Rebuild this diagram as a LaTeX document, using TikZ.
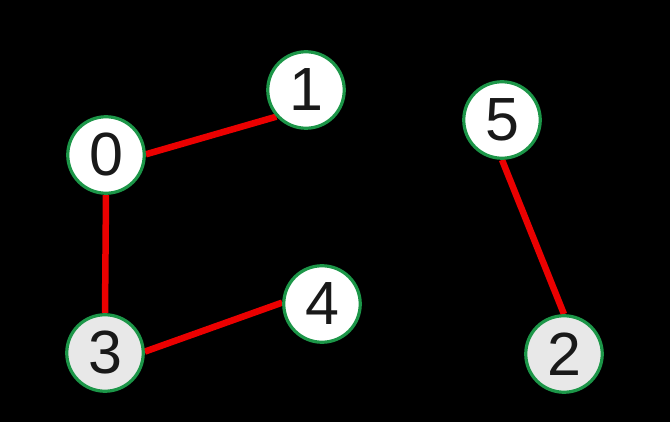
\documentclass[tikz,border=0pt]{standalone}
\usepackage{fontspec}
\setmainfont{Liberation Sans}
\usetikzlibrary{backgrounds}
\definecolor{ringgreen}{RGB}{28,150,72}
\definecolor{edgered}{RGB}{235,0,0}
\definecolor{lightfill}{RGB}{232,232,232}
\begin{document}
\begin{tikzpicture}[x=1pt,y=-1pt,
  vert/.style={circle,draw=ringgreen,line width=3.2pt,fill=white,minimum size=76.5pt,inner sep=0pt,font=\fontsize{61}{61}\selectfont,text=black!90},
  vertg/.style={vert,fill=lightfill},
  edge/.style={draw=edgered,line width=6.5pt}]
\useasboundingbox (0,0) rectangle (670,422);
\node[vert] (n0) at (106,155) {0};
\node[vert] (n1) at (306,90) {1};
\node[vert] (n5) at (502,120) {5};
\node[vert] (n4) at (322,304) {4};
\node[vertg] (n3) at (105,353) {3};
\node[vertg] (n2) at (564,354) {2};
\begin{scope}[on background layer]
\fill[black] (0,0) rectangle (670,422);
\draw[edge] (n0.1) -- (n1.222);
\draw[edge] (n0.south) -- (n3.north);
\draw[edge] (n3.2) -- (n4.178);
\draw[edge] (n5.south) -- (n2.north);
\end{scope}
\end{tikzpicture}
\end{document}
